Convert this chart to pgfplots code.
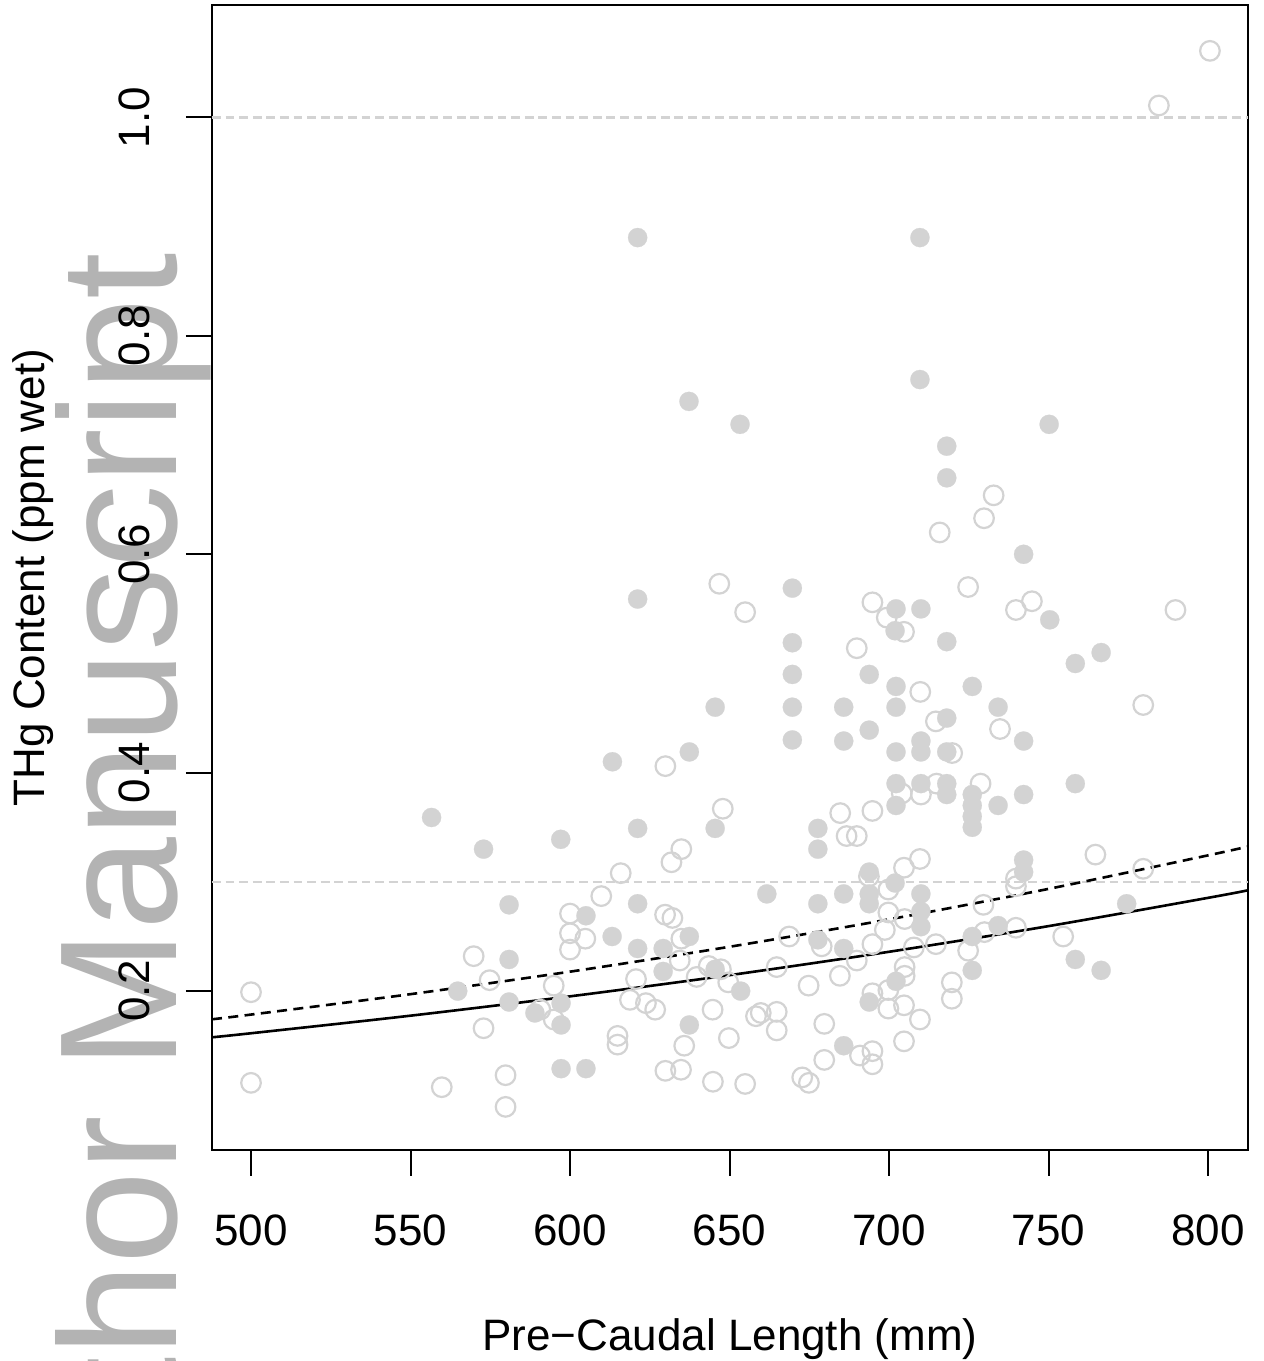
\documentclass[border=0pt]{standalone}
\usepackage{fontspec}
\setmainfont{Liberation Sans}
\usepackage{pgfplots}
\pgfplotsset{compat=1.18}
\definecolor{ptgray}{RGB}{211,211,211}
\definecolor{wmgray}{RGB}{179,179,179}

% filled points
\pgfplotstableread{
x y
621.2 0.890
709.7 0.890
709.7 0.760
637.3 0.740
653.3 0.719
718.1 0.699
750.2 0.719
718.1 0.670
742.2 0.600
750.4 0.540
766.5 0.510
758.4 0.500
742.2 0.429
742.2 0.380
758.4 0.390
734.2 0.460
726.1 0.479
734.2 0.370
726.1 0.380
726.1 0.370
726.1 0.360
726.1 0.350
718.1 0.520
718.1 0.450
718.1 0.419
718.1 0.390
718.1 0.380
710.0 0.429
710.0 0.419
710.0 0.390
710.0 0.550
702.2 0.550
701.9 0.530
702.2 0.479
702.2 0.460
702.2 0.419
702.2 0.390
702.2 0.370
693.8 0.490
693.8 0.439
685.8 0.460
685.8 0.429
677.7 0.349
677.7 0.330
669.7 0.569
669.7 0.519
669.7 0.490
669.7 0.460
669.7 0.430
621.2 0.559
645.5 0.460
637.4 0.419
613.3 0.410
556.6 0.359
572.9 0.330
597.1 0.339
621.2 0.349
645.5 0.349
580.9 0.279
621.2 0.280
605.0 0.269
613.2 0.250
637.4 0.250
621.2 0.239
629.2 0.239
580.9 0.229
564.8 0.200
629.2 0.218
653.5 0.200
580.9 0.190
597.2 0.189
589.0 0.180
597.2 0.169
637.4 0.169
597.2 0.129
605.0 0.129
685.8 0.150
693.8 0.190
702.2 0.209
685.8 0.239
677.7 0.247
685.8 0.289
677.7 0.280
693.8 0.309
693.8 0.289
693.8 0.280
701.9 0.299
710.0 0.289
710.0 0.273
710.0 0.259
726.1 0.250
726.1 0.219
734.2 0.260
742.2 0.320
742.2 0.309
758.4 0.229
766.5 0.219
774.5 0.280
661.7 0.289
645.5 0.220
}\filledpts

% open points
\pgfplotstableread{
x y
800.6 1.061
784.6 1.011
732.8 0.654
729.8 0.633
715.9 0.620
724.8 0.570
739.8 0.549
744.8 0.557
789.8 0.549
779.7 0.462
734.8 0.440
709.8 0.474
714.7 0.447
719.8 0.418
714.9 0.390
728.7 0.390
710.0 0.380
704.0 0.381
704.7 0.529
699.3 0.542
694.8 0.556
689.9 0.514
646.8 0.573
654.9 0.547
629.9 0.406
647.9 0.367
684.7 0.363
694.8 0.365
686.7 0.342
689.9 0.342
634.9 0.330
631.8 0.318
615.9 0.308
609.8 0.287
704.7 0.313
709.7 0.321
693.7 0.305
699.8 0.293
600.0 0.271
629.8 0.270
632.1 0.267
699.8 0.272
704.9 0.266
600.0 0.253
604.8 0.248
600.0 0.238
634.9 0.248
668.7 0.250
678.9 0.241
694.8 0.243
698.7 0.256
707.8 0.240
714.7 0.243
724.8 0.237
729.6 0.279
729.9 0.254
739.8 0.258
739.8 0.303
739.8 0.296
754.6 0.250
764.7 0.325
779.7 0.312
569.8 0.232
574.8 0.210
594.9 0.205
500.0 0.199
620.7 0.211
634.4 0.228
639.7 0.213
643.5 0.223
647.3 0.220
649.6 0.208
664.8 0.222
674.8 0.205
684.6 0.214
689.9 0.228
694.8 0.198
699.8 0.201
704.9 0.222
704.9 0.214
719.7 0.208
719.7 0.193
699.8 0.184
704.7 0.187
618.8 0.192
623.8 0.189
626.7 0.183
644.7 0.183
658.3 0.177
659.8 0.180
664.8 0.181
664.8 0.164
679.7 0.170
709.7 0.174
594.9 0.174
590.7 0.183
572.9 0.166
614.9 0.159
614.9 0.151
635.8 0.150
649.8 0.157
690.9 0.141
694.8 0.145
694.8 0.133
704.7 0.154
679.7 0.137
629.9 0.127
634.8 0.128
644.8 0.117
654.9 0.115
672.8 0.121
674.9 0.116
500.0 0.116
559.8 0.112
579.8 0.123
579.8 0.094
}\openpts

\begin{document}
\begin{tikzpicture}
\useasboundingbox (-106bp,-105.5bp) rectangle (526bp,575bp);
% watermark behind the plot
\node[rotate=90, anchor=base east, inner sep=0pt, text=wmgray,
  font=\fontsize{83.5bp}{90bp}\selectfont] at (-17.6bp,449bp) {Author Manuscript};
\begin{axis}[
  at={(0,0)}, anchor=south west,
  width=518bp, height=572.5bp, scale only axis,
  xmin=487.77, xmax=812.54,
  ymin=0.0545, ymax=1.103,
  xtick={500,550,600,650,700,750,800},
  xticklabels={500,550,600,650,700,750,800},
  ytick={0.2,0.4,0.6,0.8,1.0},
  yticklabels={0.2,0.4,0.6,0.8,1.0},
  tick pos=left,
  tick align=outside,
  major tick length=13bp,
  every tick/.style={black, line width=1bp},
  axis line style={black, line width=1bp},
  ticklabel style={font=\fontsize{22bp}{26bp}\selectfont, inner sep=0pt},
  xticklabel style={anchor=base},
  xticklabel shift=34.5bp,
  yticklabel style={rotate=90, anchor=base},
  yticklabel shift=18bp,
  xlabel={Pre−Caudal Length (mm)},
  ylabel={THg Content (ppm wet)},
  label style={font=\fontsize{22bp}{26bp}\selectfont, inner sep=0pt},
  xlabel style={at={(axis description cs:0.5,-0.1747)}, anchor=base},
  ylabel style={at={(axis description cs:-0.1612,0.5)}, anchor=base, rotate=0},
  clip=true,
]
\addplot[ptgray, line width=1.15bp, dash pattern=on 4.4bp off 2.4bp, forget plot]
  coordinates {(487.77,1.0) (812.54,1.0)};
\addplot[ptgray, line width=1.15bp, dash pattern=on 4.4bp off 2.4bp, forget plot]
  coordinates {(487.77,0.3) (812.54,0.3)};
\addplot[only marks, color=ptgray, mark=*, mark size=4.8bp,
  mark options={fill=ptgray, draw=ptgray, line width=0.1bp}] table {\filledpts};
\addplot[only marks, color=ptgray, mark=o, mark size=4.9bp,
  mark options={draw=ptgray, line width=1.1bp}] table {\openpts};
\addplot[black, line width=1.3bp, smooth] coordinates {
  (487.77,0.1577) (500,0.1614) (550,0.1775) (600,0.1952) (650,0.2146)
  (700,0.2360) (750,0.2595) (800,0.2854) (812.54,0.2923)};
\addplot[black, line width=1.3bp, smooth, dash pattern=on 5bp off 3.2bp] coordinates {
  (487.77,0.1742) (500,0.1785) (550,0.1972) (600,0.2178) (650,0.2406)
  (700,0.2657) (750,0.2936) (800,0.3243) (812.54,0.3324)};
\end{axis}
\end{tikzpicture}
\end{document}
